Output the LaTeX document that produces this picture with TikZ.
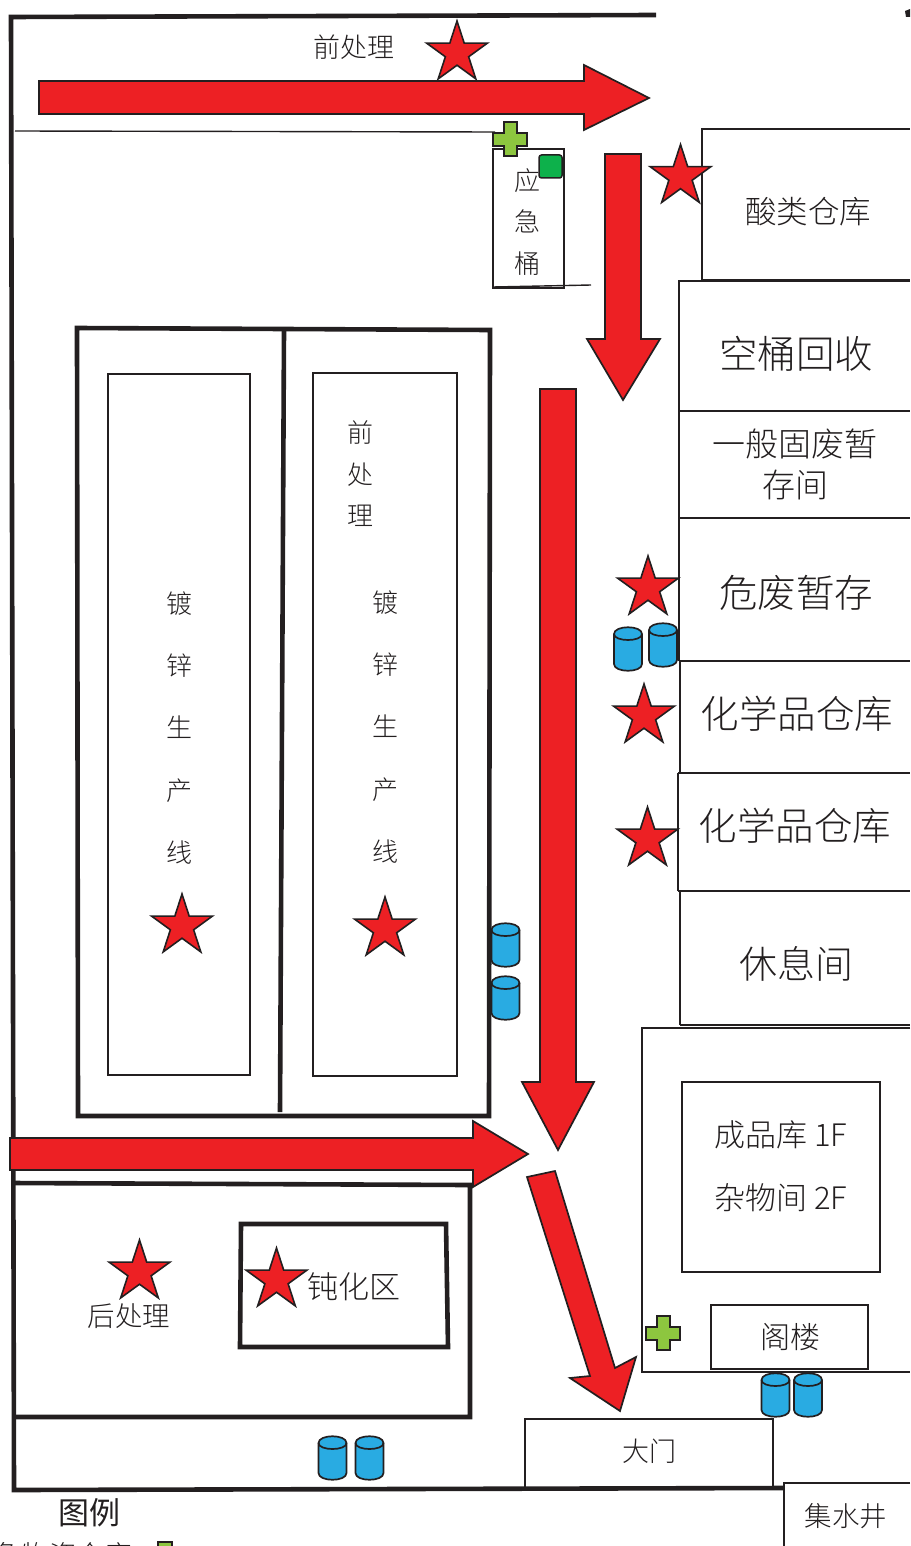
\documentclass[tikz,border=0pt]{standalone}
\usepackage{fontspec}
\setmainfont{Noto Sans CJK SC Light}
\newfontfamily\cjkreg{Noto Sans CJK SC}
\definecolor{inkc}{HTML}{231F20}
\definecolor{redc}{HTML}{ED2024}
\definecolor{bluec}{HTML}{29ABE2}
\definecolor{limec}{HTML}{8DC63F}
\definecolor{greenc}{HTML}{0DB14B}
\tikzset{
  wall/.style={draw=inkc,line width=4.6pt},
  room/.style={draw=inkc,line width=1.8pt},
  thin/.style={draw=inkc,line width=1.4pt},
  arrowshape/.style={draw=inkc,fill=redc,line width=1.7pt,line join=miter},
  lbl/.style={text=inkc,inner sep=0pt,align=center},
  starshape/.style={draw=inkc,fill=redc,line width=1.6pt},
}
\newcommand{\redstar}[3][32]{%
  \draw[starshape] (#2+0,#3-#1)
  \foreach \a in {1,...,9}{ -- ({#2+(mod(\a,2)==0 ? #1 : #1*0.382)*sin(36*\a)},{#3-(mod(\a,2)==0 ? #1 : #1*0.382)*cos(36*\a)}) } -- cycle;}
\newcommand{\drum}[2]{%
  \draw[draw=inkc,fill=bluec,line width=1.7pt] (#1-14,#2-15) -- (#1-14,#2+15) .. controls (#1-14,#2+24) and (#1+14,#2+24) .. (#1+14,#2+15) -- (#1+14,#2-15) .. controls (#1+14,#2-24) and (#1-14,#2-24) .. (#1-14,#2-15) -- cycle;
  \draw[draw=inkc,line width=1.7pt] (#1-14,#2-15) .. controls (#1-14,#2-7) and (#1+14,#2-7) .. (#1+14,#2-15);}
\newcommand{\plus}[2]{%
  \draw[draw=inkc,fill=limec,line width=1.5pt] (#1-6,#2-17) -- (#1+7,#2-17) -- (#1+7,#2-6) -- (#1+17,#2-6) -- (#1+17,#2+7) -- (#1+7,#2+7) -- (#1+7,#2+17) -- (#1-6,#2+17) -- (#1-6,#2+7) -- (#1-17,#2+7) -- (#1-17,#2-6) -- (#1-6,#2-6) -- cycle;}
\begin{document}
\begin{tikzpicture}[x=1pt,y=-1pt]
\useasboundingbox (0,0) rectangle (910,1546);
\clip (0,0) rectangle (910,1546);
% outer wall
\draw[wall] (656,15) -- (11,17) -- (14,1490) -- (784,1488);
\draw[thin] (15,131) -- (495,132);
\fill[inkc] (905,11) -- (910,9) -- (910,17) -- (906,17) -- cycle;
% rooms right
\draw[room] (702,280) -- (702,129) -- (910,129);
\draw[room] (702,280) -- (910,280);
\draw[room] (679,411) -- (679,281) -- (910,281);
\draw[room] (679,411) -- (910,411);
\draw[room] (679,518) -- (679,411);
\draw[draw=inkc,line width=2.6pt] (679,518) -- (910,518);
\draw[room] (679,661) -- (679,518);
\draw[room] (679,661) -- (910,661);
\draw[room] (680,773) -- (680,661);
\draw[room] (678,773) -- (910,773);
\draw[room] (678,891) -- (678,773);
\draw[room] (678,891) -- (910,891);
\draw[room] (680,1025) -- (680,891);
\draw[room] (680,1025) -- (910,1025);
\draw[room] (910,1028) -- (642,1028) -- (642,1372) -- (910,1372);
\draw[room] (682,1082) rectangle (880,1272);
\draw[draw=inkc,line width=2.1pt] (711,1305) rectangle (868,1369);
% gate and well
\draw[room] (910,1483) -- (784,1483) -- (784,1546);
\draw[room] (525,1489) -- (525,1419) -- (773,1419) -- (773,1488);
% emergency bucket room
\draw[draw=inkc,line width=2pt] (493,288) -- (493,149) -- (564,149) -- (564,288) -- cycle;
\draw[thin] (493,287) -- (591,285);
% production block
\draw[wall] (77,328) -- (490,330) -- (489,1116) -- (78,1116) -- cycle;
\draw[wall] (284,330) -- (280,1112);
\draw[room] (108,374) rectangle (250,1075);
\draw[room] (313,373) rectangle (457,1076);
% lower block
\draw[wall] (12,1183) -- (470,1185) -- (470,1417) -- (13,1417);
\draw[wall] (241,1224) -- (446,1224) -- (448,1347) -- (240,1347) -- cycle;
% arrows
\draw[arrowshape] (39,81) -- (584,81) -- (584,65) -- (649,98) -- (584,130) -- (584,114) -- (39,114) -- cycle;
\draw[arrowshape] (605,154) -- (641,154) -- (641,339) -- (660,339) -- (623,400) -- (587,339) -- (605,339) -- cycle;
\draw[arrowshape] (540,389) -- (576,389) -- (576,1082) -- (594,1082) -- (558,1150) -- (522,1082) -- (540,1082) -- cycle;
\draw[arrowshape] (10,1138) -- (473,1138) -- (473,1121) -- (528,1154) -- (473,1187) -- (473,1170) -- (10,1170) -- cycle;
\draw[arrowshape] (527,1177) -- (555,1171) -- (615,1368) -- (636,1357) -- (620,1411) -- (570,1378) -- (590,1376) -- cycle;
% stars
\redstar{457}{53}
\redstar{680.5}{176.5}
\redstar{648}{588}
\redstar{644}{716}
\redstar{647.5}{839}
\redstar{182}{926}
\redstar{385}{929}
\redstar{139.5}{1272}
\redstar{276.5}{1280}
% drums
\drum{628}{649}
\drum{663}{645}
\drum{505.5}{945}
\drum{505.5}{998}
\drum{775.5}{1395}
\drum{808}{1395}
\drum{332.5}{1458}
\drum{369.5}{1458}
% plus
\plus{510}{139}
\plus{663}{1333}
\draw[draw=inkc,fill=greenc,line width=1.5pt,rounded corners=2.5pt] (539,155) rectangle (562,178);
\draw[draw=inkc,fill=limec,line width=1.5pt] (158,1542) rectangle (172,1560);
% labels
\node[lbl,font=\fontsize{27}{30}\selectfont] (t1) at (354,47) {前处理};
\node[lbl,font=\fontsize{31.5}{34}\selectfont] (t2) at (808,212) {酸类仓库};
\node[lbl,font=\fontsize{38.5}{42}\selectfont] (t3) at (796,354) {空桶回收};
\node[lbl,font=\fontsize{33}{41}\selectfont] (t4) at (795,464) {一般固废暂\\存间};
\node[lbl,font=\fontsize{38.5}{42}\selectfont] (t5) at (796,593) {危废暂存};
\node[lbl,font=\fontsize{38.5}{42}\selectfont] (t6) at (797,714) {化学品仓库};
\node[lbl,font=\fontsize{38.5}{42}\selectfont] (t7) at (795,826) {化学品仓库};
\node[lbl,font=\fontsize{38}{42}\selectfont] (t8) at (796,964) {休息间};
\node[lbl,font=\fontsize{31}{62.5}\selectfont] (t9) at (781,1166) {成品库 1F\\杂物间 2F};
\node[lbl,font=\fontsize{30}{34}\selectfont] (t10) at (790,1337) {阁楼};
\node[lbl,font=\fontsize{27}{30}\selectfont] (t11) at (649,1451) {大门};
\node[lbl,font=\fontsize{27.5}{30}\selectfont] (t12) at (846,1516) {集水井};
\node[lbl,font=\fontsize{26}{41.5}\selectfont] (t13) at (527,222) {应\\急\\桶};
\node[lbl,font=\fontsize{26}{41.5}\selectfont] (t14) at (360,474) {前\\处\\理};
\node[lbl,font=\fontsize{26}{62.2}\selectfont] (t15) at (179,728) {镀\\锌\\生\\产\\线};
\node[lbl,font=\fontsize{26}{62.2}\selectfont] (t16) at (385,727) {镀\\锌\\生\\产\\线};
\node[lbl,font=\fontsize{31}{34}\selectfont] (t17) at (354,1287) {钝化区};
\node[lbl,font=\fontsize{27.5}{30}\selectfont] (t18) at (129,1316) {后处理};
\node[lbl,font=\fontsize{31}{34}\selectfont\cjkreg] (t19) at (89,1513) {图例};
\node[lbl,font=\fontsize{27.5}{30}\selectfont,anchor=east] (t20) at (132,1555) {应急物资仓库};
\end{tikzpicture}
\end{document}
